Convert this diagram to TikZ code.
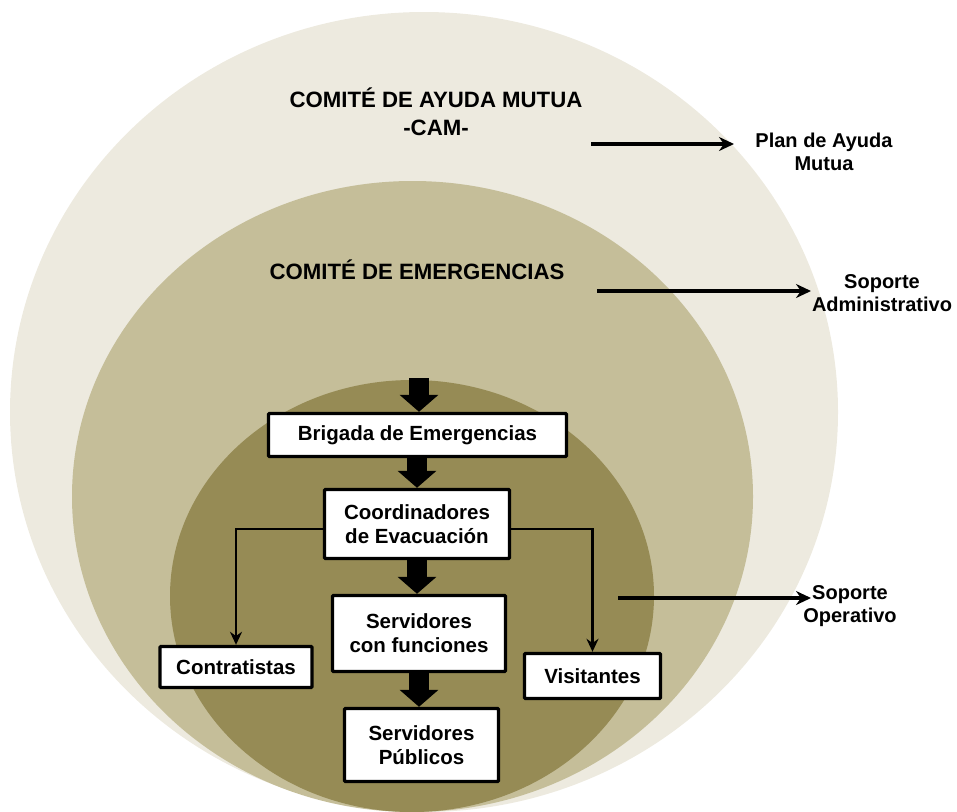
\documentclass[tikz,border=0pt]{standalone}
\usepackage{fontspec}
\setmainfont{Liberation Sans}
\usetikzlibrary{arrows.meta}
\definecolor{outerc}{RGB}{237,234,223}
\definecolor{midc}{RGB}{197,190,153}
\definecolor{innerc}{RGB}{150,139,85}
\begin{document}
\begin{tikzpicture}[x=1pt,y=-1pt,
  box/.style={draw=black, line width=3.4pt, fill=white, rounded corners=1pt,
    font=\bfseries\fontsize{20.5}{24}\selectfont, align=center, inner sep=0pt},
  fat/.style={line width=20pt, line cap=butt, -{Triangle[length=17pt,width=38pt]}},
  branch/.style={line width=2.8pt, -{Stealth[length=13pt,width=12pt]}},
  side/.style={line width=3.2pt, -{Stealth[length=15pt,width=14pt]}},
  lbl/.style={font=\bfseries\fontsize{20}{23}\selectfont, align=center, inner sep=0pt},
  head/.style={font=\bfseries\fontsize{22.2}{28}\selectfont, align=center, inner sep=0pt}]
\path[use as bounding box] (0,0) rectangle (957,811);
\begin{scope}
  \clip (0,0) rectangle (957,811);
  \fill[outerc] (424,412) ellipse [x radius=414pt, y radius=400pt];
  \fill[midc] (412.5,496.5) ellipse [x radius=340.5pt, y radius=315.5pt];
  \fill[innerc] (412,596) ellipse [x radius=242pt, y radius=216pt];
\end{scope}

% headings
\node[head] (cam) at (436,112) {COMITÉ DE AYUDA MUTUA\\-CAM-};
\node[head] (ce) at (417,270) {COMITÉ DE EMERGENCIAS};

% side labels
\node[lbl] (plan) at (824,152) {Plan de Ayuda\\Mutua};
\node[lbl] (sadm) at (882,293) {Soporte\\Administrativo};
\node[lbl] (sop) at (850,606) {Soporte\\Operativo};

\coordinate (a1s) at (591,144); \coordinate (a1e) at (734,144);
\coordinate (a2s) at (597,291); \coordinate (a2e) at (811,291);
\coordinate (a3s) at (618,598); \coordinate (a3e) at (811,598);
\draw[side] (a1s) -- (a1e);
\draw[side] (a2s) -- (a2e);
\draw[side] (a3s) -- (a3e);

% boxes
\node[box, minimum width=298pt, minimum height=43pt] (brig) at (417.5,435) {Brigada de Emergencias};
\node[box, minimum width=185pt, minimum height=69pt] (coord) at (417,524) {Coordinadores\\de Evacuación};
\node[box, minimum width=173pt, minimum height=76pt] (serv) at (419,633.5) {Servidores\\con funciones};
\node[box, minimum width=152pt, minimum height=41pt] (contr) at (236,667) {Contratistas};
\node[box, minimum width=136pt, minimum height=45pt] (visit) at (592.5,676) {Visitantes};
\node[box, minimum width=154pt, minimum height=73pt] (pub) at (421.5,745) {Servidores\\Públicos};

% block arrows
\coordinate (top) at (419,378);
\draw[fat] (top) -- (top |- brig.north);
\draw[fat] (brig.south -| coord.north) -- (coord.north);
\draw[fat] (coord.south) -- (coord.south |- serv.north);
\draw[fat] (serv.south) -- (serv.south |- pub.north);

% branches
\draw[branch] ([yshift=-5pt]coord.west) -| (contr.north);
\draw[branch] ([yshift=-5pt]coord.east) -| (visit.north);
\end{tikzpicture}
\end{document}
